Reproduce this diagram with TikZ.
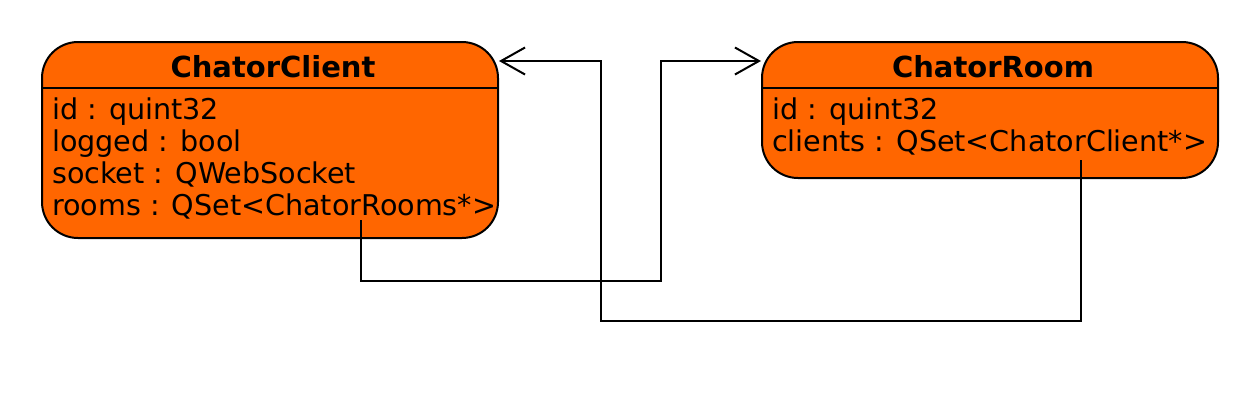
\documentclass[tikz,border=0pt]{standalone}
\usepackage{fontspec}
\setmainfont{DejaVu Sans}
\usetikzlibrary{arrows.meta,calc,positioning}
\definecolor{classorange}{HTML}{FF6600}

\begin{document}
\begin{tikzpicture}[x=1pt,y=-1pt,
    classbox/.style={draw,line width=2pt,fill=classorange,rounded corners=36pt,inner sep=0pt},
    classname/.style={font=\fontsize{29}{33}\selectfont\bfseries,anchor=base,inner sep=0pt},
    attr/.style={font=\fontsize{28.6}{33}\selectfont,anchor=base west,inner sep=0pt},
    assoc/.style={line width=2pt,-{Straight Barb[length=24pt,width=27pt]}}]

    \useasboundingbox (0,0) rectangle (1260,400);

    % classes
    \node[classbox,minimum width=456pt,minimum height=196pt] (client) at (270,140) {};
    \node[classbox,minimum width=456pt,minimum height=136pt] (room)   at (990,110) {};

    \draw[line width=2pt] (client.west |- 0,88) -- (client.east |- 0,88);
    \draw[line width=2pt] (room.west |- 0,88) -- (room.east |- 0,88);

    \node[classname] (client-name) at (273,77) {ChatorClient};
    \node[classname] (room-name)   at (993,77) {ChatorRoom};

    % attributes
    \foreach \txt [count=\i] in {id : quint32, logged : bool, socket : QWebSocket, rooms : QSet<ChatorRooms*>}
        \node[attr] (client-attr-\i) at (52,87+32*\i) {\txt};
    \foreach \txt [count=\i] in {id : quint32, clients : QSet<ChatorClient*>}
        \node[attr] (room-attr-\i) at (772,87+32*\i) {\txt};

    % associations
    \coordinate (rooms-end)   at (361,220);
    \coordinate (clients-end) at (1081,160);

    \draw[assoc] (rooms-end) |- (661,281) |- (room.west |- 0,61);
    \draw[assoc] (clients-end) |- (601,321) |- (client.east |- 0,61);

\end{tikzpicture}
\end{document}
